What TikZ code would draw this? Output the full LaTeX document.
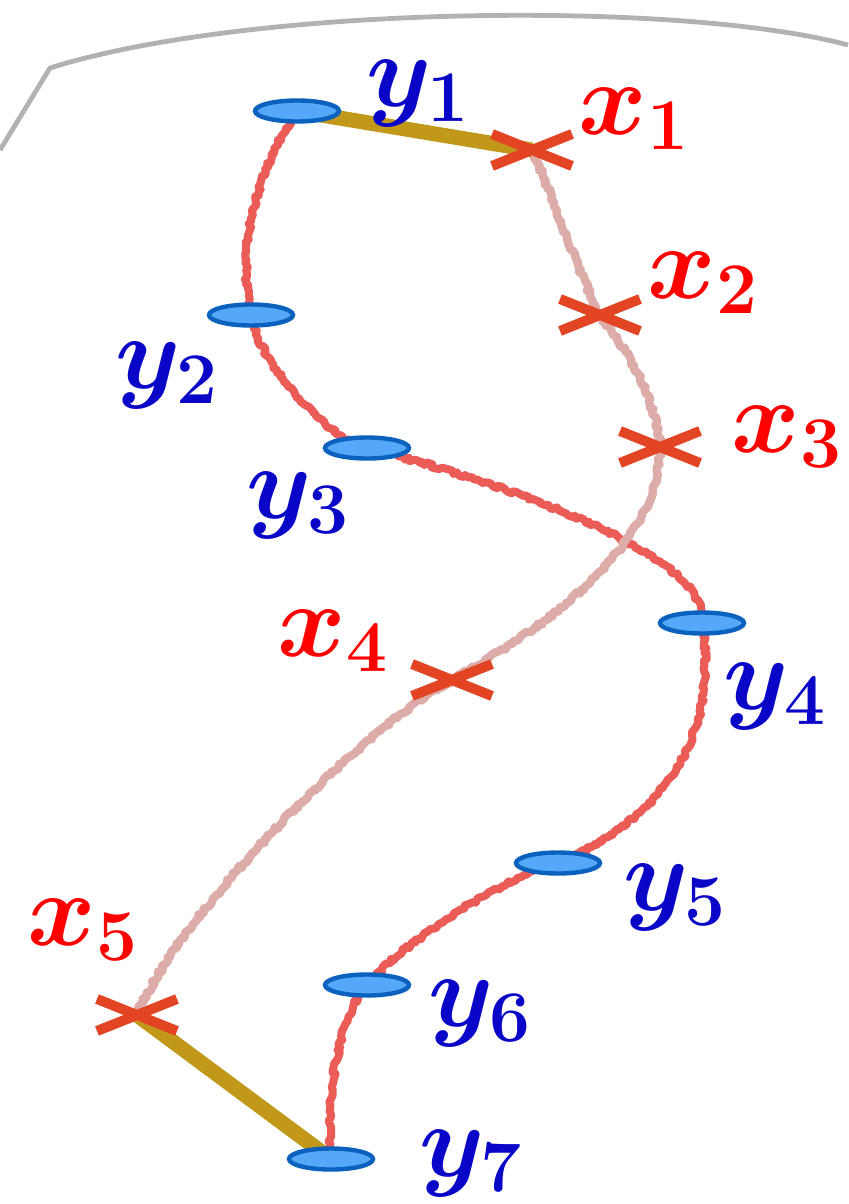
\RequirePackage{fix-cm}
\documentclass[tikz,border=0pt]{standalone}
\usetikzlibrary{shapes.geometric,shapes.misc,decorations.pathmorphing,backgrounds}
\definecolor{ylabc}{HTML}{0A06C8}
\definecolor{xlabc}{HTML}{FF0000}
\definecolor{ycurve}{HTML}{EC5C57}
\definecolor{xcurve}{HTML}{DEACA8}
\definecolor{goldc}{HTML}{C2981A}
\definecolor{crossc}{HTML}{E24424}
\definecolor{ellfill}{HTML}{55A8F8}
\definecolor{elldraw}{HTML}{0A62BE}
\definecolor{greyc}{HTML}{B2B2B2}
\begin{document}
\begin{tikzpicture}[x=0.5pt,y=-0.5pt,
  ynode/.style={ellipse, draw=elldraw, fill=ellfill, line width=2.2pt, minimum width=42pt, minimum height=10.5pt, inner sep=0pt},
  xnode/.style={cross out, draw=crossc, line width=5pt, minimum width=35pt, minimum height=11pt, inner sep=0pt},
  lab/.style={font=\fontsize{52}{60}\selectfont\boldmath, inner sep=0pt},
  ylab/.style={lab, text=ylabc},
  xlab/.style={lab, text=xlabc},
  rough/.style={decorate, decoration={random steps, segment length=1.5pt, amplitude=0.9pt}},
  ychain/.style={draw=ycurve, line width=4pt, rough, line join=round},
  xchain/.style={draw=xcurve, line width=4.2pt, rough, line join=round},
  goldline/.style={draw=goldc, line width=7.5pt},
  boundary/.style={draw=greyc, line width=2.4pt}]
\useasboundingbox (0,0) rectangle (848,1204);
\draw[boundary] (0,150) -- (50,68) .. controls (250,5) and (680,0) .. (848,45);

% nodes
\node[ynode] (y1) at (297,111) {};
\node[ynode] (y2) at (251,315) {};
\node[ynode] (y3) at (367,448) {};
\node[ynode] (y4) at (702,623) {};
\node[ynode] (y5) at (558,863) {};
\node[ynode] (y6) at (367,985) {};
\node[ynode] (y7) at (331,1159) {};
\node[xnode] (x1) at (532,150) {};
\node[xnode] (x2) at (600,315) {};
\node[xnode] (x3) at (660,447) {};
\node[xnode] (x4) at (452,680) {};
\node[xnode] (x5) at (137,1015) {};

% labels
\node[ylab] (ly1) at (418,93) {$y_1$};
\node[ylab] (ly2) at (167,375) {$y_2$};
\node[ylab] (ly3) at (298,505) {$y_3$};
\node[ylab] (ly4) at (775,696) {$y_4$};
\node[ylab] (ly5) at (675,897) {$y_5$};
\node[ylab] (ly6) at (480,1013) {$y_6$};
\node[ylab] (ly7) at (471,1163) {$y_7$};
\node[xlab] (lx1) at (634,119) {$x_1$};
\node[xlab] (lx2) at (703,283) {$x_2$};
\node[xlab] (lx3) at (787,437) {$x_3$};
\node[xlab] (lx4) at (333,641) {$x_4$};
\node[xlab] (lx5) at (83,930) {$x_5$};

\begin{scope}[on background layer]
\path[ychain] (y1.center) .. controls +(-40,60) and +(-15,-70) .. (y2.center)
  .. controls +(5,40) and +(-50,-15) .. (y3.center)
  .. controls +(120,30) and +(10,-70) .. (y4.center)
  .. controls +(18,117) and +(102,-43) .. (y5.center)
  .. controls +(-80,25) and +(25,-30) .. (y6.center)
  .. controls +(-30,35) and +(-5,-60) .. (y7.center);
\path[xchain] (x1.center) .. controls +(20,45) and +(-25,-50) .. (x2.center)
  .. controls +(30,40) and +(-5,-50) .. (x3.center)
  .. controls +(0,100) and +(90,-50) .. (x4.center)
  .. controls +(-100,55) and +(35,-90) .. (x5.center);
\draw[goldline] (y1.center) -- (x1.center);
\draw[goldline] (x5.center) -- (y7.center);
\end{scope}
\end{tikzpicture}
\end{document}
